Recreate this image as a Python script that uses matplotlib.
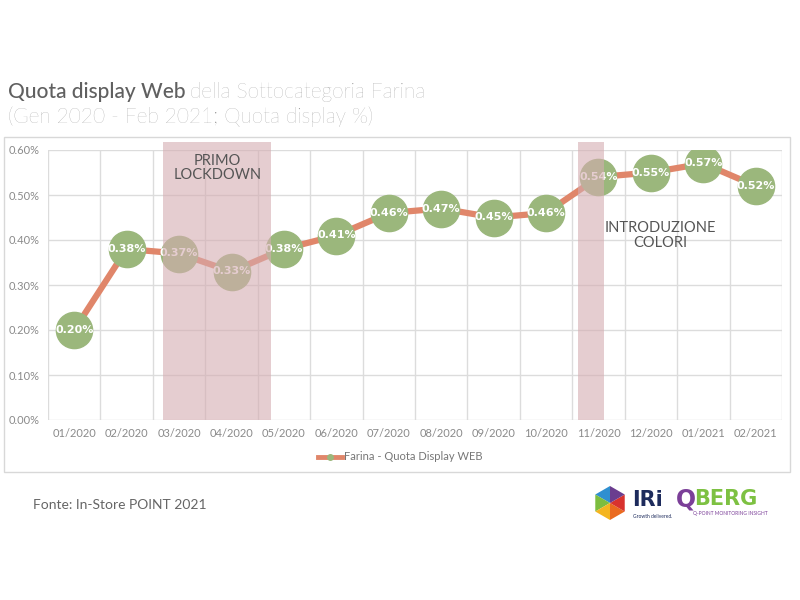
import numpy as np
import matplotlib
matplotlib.use("Agg")
import matplotlib.pyplot as plt
from matplotlib.patches import Polygon, Rectangle
from matplotlib.ticker import FuncFormatter

plt.rcParams['font.family'] = ['Lato', 'DejaVu Sans']

# data
months = ['01/2020', '02/2020', '03/2020', '04/2020', '05/2020', '06/2020', '07/2020',
          '08/2020', '09/2020', '10/2020', '11/2020', '12/2020', '01/2021', '02/2021']
quota = [0.20, 0.38, 0.37, 0.33, 0.38, 0.41, 0.46, 0.47, 0.45, 0.46, 0.54, 0.55, 0.57, 0.52]
series_name = 'Farina - Quota Display WEB'
lockdown_span = (1.7, 3.75)
colori_span = (9.6, 10.1)

line_col = '#e0866a'
dot_col = '#9bb77c'
band_col = '#d5acb1'
grid_col = '#dcdcdc'
tick_col = '#8a8a8a'

fig = plt.figure(figsize=(8, 6), dpi=100)
fig.patch.set_facecolor('white')

# outer chart box
fig.patches.append(Rectangle((0.005, 1 - 472 / 600), 0.982, (472 - 137) / 600,
                             transform=fig.transFigure, fill=False,
                             edgecolor='#d8d8d8', linewidth=1.0))

# title
t1 = fig.text(0.01, 1 - 92 / 600, 'Quota display Web', fontsize=15, color='#606060',
              fontweight='medium', va='center')
fig.canvas.draw()
bb = t1.get_window_extent()
fig.text(bb.x1 / 800 + 0.006, 1 - 92 / 600, 'della Sottocategoria Farina', fontsize=15,
         color='#8e8e8e', fontweight='light', va='center')
fig.text(0.01, 1 - 117 / 600, '(Gen 2020 - Feb 2021; Quota display %)', fontsize=15,
         color='#8e8e8e', fontweight='light', va='center')

ax = fig.add_axes([48 / 800, 1 - 420 / 600, (782 - 48) / 800, (420 - 150) / 600])
x = np.arange(len(months))
ax.set_xlim(-0.5, len(months) - 0.5)
ax.set_ylim(0, 0.6)
ax.set_yticks(np.arange(0, 0.61, 0.1))
ax.yaxis.set_major_formatter(FuncFormatter(lambda v, p: '%.2f%%' % v))
ax.set_xticks(x)
ax.set_xticklabels(months)
ax.set_xticks(np.arange(-0.5, len(months), 1), minor=True)
ax.grid(True, which='major', axis='y', color=grid_col, linewidth=1)
ax.grid(True, which='minor', axis='x', color=grid_col, linewidth=1)
ax.tick_params(which='both', length=0, labelsize=8, colors=tick_col, pad=6)
for s in ax.spines.values():
    s.set_visible(False)
ax.set_axisbelow(True)

ax.plot(x, quota, color=line_col, linewidth=4.5, solid_capstyle='round', zorder=2,
        label=series_name)
ax.scatter(x, quota, s=680, color=dot_col, zorder=3)
for xi, v in zip(x, quota):
    ax.text(xi, v, '%.2f%%' % v, color='white', fontsize=8, fontweight='bold',
            ha='center', va='center', zorder=4, family='DejaVu Sans')

# event bands drawn over the series
for a, b in (lockdown_span, colori_span):
    ax.add_patch(Rectangle((a, 0), b - a, 0.617, facecolor=band_col, alpha=0.6,
                           edgecolor='none', zorder=5, clip_on=False))

ax.text(2.73, 0.592, 'PRIMO\nLOCKDOWN', ha='center', va='top', fontsize=10.5,
        color='#555555', linespacing=1.05, zorder=6)
ax.text(11.18, 0.41, 'INTRODUZIONE\nCOLORI', ha='center', va='center', fontsize=10.5,
        color='#555555', linespacing=1.05, zorder=6)

# legend
leg_line, = ax.plot([], [], color=line_col, linewidth=3.5, marker='o', markersize=4,
                    markerfacecolor=dot_col, markeredgecolor=dot_col)
fig.legend([leg_line], [series_name], loc='center', bbox_to_anchor=(0.5, 1 - 457 / 600),
           frameon=False, fontsize=8, labelcolor='#777777', handlelength=2.2,
           handletextpad=0.1)

# footer
fig.text(33 / 800, 1 - 505 / 600, 'Fonte: In-Store POINT 2021', fontsize=10,
         color='#666666', va='center')

# IRi mark
cx, cy, r = 610 / 800, 1 - 503 / 600, 17
hex_cols = ['#2f8fd0', '#7cbd3f', '#f4b520', '#ea6a1f', '#d8322e', '#6a3d8f']
for i, c in enumerate(hex_cols):
    a0 = np.deg2rad(90 + 60 * i)
    a1 = np.deg2rad(150 + 60 * i)
    pts = [(cx, cy),
           (cx + r * np.cos(a0) / 800, cy + r * np.sin(a0) / 600),
           (cx + r * np.cos(a1) / 800, cy + r * np.sin(a1) / 600)]
    fig.patches.append(Polygon(pts, closed=True, transform=fig.transFigure,
                               facecolor=c, edgecolor='none'))
fig.text(632 / 800, 1 - 500 / 600, 'IRi', fontsize=15, fontweight='heavy',
         color='#1d2b5c', va='center', family='DejaVu Sans')
fig.text(633 / 800, 1 - 517 / 600, 'Growth delivered.', fontsize=3.5, color='#1d2b5c',
         va='center')
fig.text(676 / 800, 1 - 499 / 600, 'Q', fontsize=17, fontweight='heavy', color='#7b3f98',
         va='center', family='DejaVu Sans')
fig.text(694 / 800, 1 - 499 / 600, 'BERG', fontsize=15, fontweight='heavy',
         color='#7dc142', va='center', family='DejaVu Sans')
fig.text(693 / 800, 1 - 513 / 600, 'Q-POINT MONITORING INSIGHT', fontsize=3.5,
         color='#7b3f98', va='center')

fig.savefig('out.png', dpi=100, facecolor='white')
